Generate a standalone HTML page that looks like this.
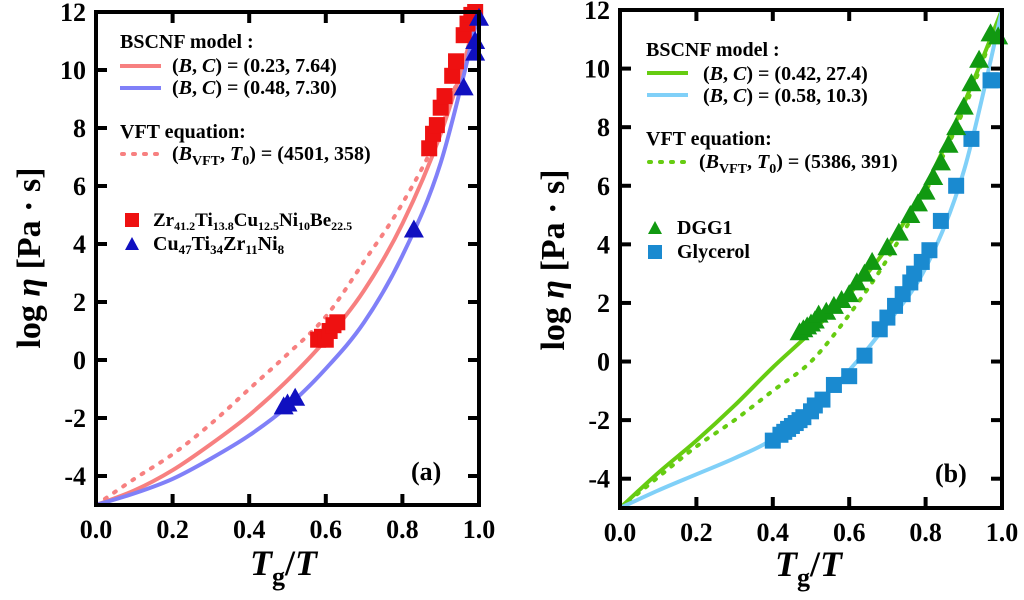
<!DOCTYPE html>
<html><head><meta charset="utf-8"><style>
html,body{margin:0;padding:0;background:#fff;}
svg{display:block;font-family:"Liberation Serif",serif;font-weight:bold;}
</style></head><body>
<svg id="c" width="1024" height="600" viewBox="0 0 1024 600"></svg>
<script>
// ---- data ----
const xTicks=[0,0.2,0.4,0.6,0.8,1.0];
const xTickLabels=["0.0","0.2","0.4","0.6","0.8","1.0"];
const yTicks=[-4,-2,0,2,4,6,8,10,12];
const yTickLabels=["-4","-2","0","2","4","6","8","10","12"];
const curveX=[0,0.1,0.2,0.3,0.4,0.5,0.6,0.7,0.8,0.9,1.0];
const aRedFit=[-5,-4.5,-3.8,-2.9,-1.9,-0.7,0.7,2.4,4.7,7.8,12];
const aBlueFit=[-5,-4.6,-4.1,-3.4,-2.6,-1.6,-0.3,1.3,3.6,6.8,12];
const aVFT=[-5,-4.1,-3.25,-2.2,-1.0,0.2,1.5,3.4,5.4,8.0,12];
const bGreenFit=[-5,-3.8,-2.7,-1.5,-0.2,1.0,2.3,3.9,6.0,8.8,12];
const bBlueFit=[-5,-4.4,-3.85,-3.3,-2.65,-1.6,-0.3,1.3,3.2,6.5,12];
const bVFT=[-5,-3.95,-2.9,-2.0,-1.0,0.0,1.6,3.5,5.8,8.6,12];
const zrX=[0.58,0.59,0.6,0.61,0.62,0.63,0.87,0.88,0.89,0.9,0.91,0.93,0.94,0.96,0.97,0.98,0.99];
const zrY=[0.7,0.8,0.7,1.0,1.2,1.3,7.3,7.8,8.1,8.7,9.1,9.8,10.3,11.2,11.6,11.9,12];
const cuX=[0.49,0.5,0.52,0.83,0.96,0.99,0.99,1.0];
const cuY=[-1.6,-1.5,-1.3,4.5,9.4,10.6,11.0,11.8];
const dggX=[0.47,0.48,0.49,0.5,0.51,0.52,0.54,0.56,0.58,0.6,0.62,0.64,0.66,0.7,0.73,0.76,0.78,0.8,0.82,0.84,0.86,0.88,0.9,0.92,0.94,0.97,0.99];
const dggY=[1.0,1.1,1.2,1.3,1.4,1.6,1.7,1.9,2.1,2.3,2.7,3.0,3.4,3.9,4.4,5.0,5.4,5.8,6.3,6.8,7.4,8.0,8.7,9.5,10.3,11.2,11.1];
const glyX=[0.4,0.42,0.43,0.44,0.45,0.46,0.47,0.48,0.5,0.51,0.53,0.56,0.6,0.64,0.68,0.7,0.72,0.74,0.76,0.77,0.79,0.81,0.84,0.88,0.92,0.97,0.98];
const glyY=[-2.7,-2.5,-2.4,-2.3,-2.2,-2.1,-2.0,-1.9,-1.7,-1.5,-1.3,-0.8,-0.5,0.2,1.1,1.5,1.9,2.3,2.7,3.0,3.4,3.8,4.8,6.0,7.6,9.6,9.6];

const svg=document.getElementById('c');
const NS='http://www.w3.org/2000/svg';
function mk(tag,attrs,parent){const e=document.createElementNS(NS,tag);for(const k in attrs)e.setAttribute(k,attrs[k]);(parent||svg).appendChild(e);return e;}
function smooth(pts){let d='M'+pts[0][0]+','+pts[0][1];for(let i=0;i<pts.length-1;i++){const p0=pts[Math.max(i-1,0)],p1=pts[i],p2=pts[i+1],p3=pts[Math.min(i+2,pts.length-1)];const c1=[p1[0]+(p2[0]-p0[0])/6,p1[1]+(p2[1]-p0[1])/6],c2=[p2[0]-(p3[0]-p1[0])/6,p2[1]-(p3[1]-p1[1])/6];d+=` C${c1[0]},${c1[1]} ${c2[0]},${c2[1]} ${p2[0]},${p2[1]}`;}return d;}

function panel(P){
  const g=mk('g',{});
  
  
  const sx=v=>P.x0+(P.x1-P.x0)*v, sy=v=>P.yb+(P.yt-P.yb)*(v+5)/17;
  const clip=mk('clipPath',{id:'clip'+P.id},g);mk('rect',{x:P.x0,y:P.yt,width:P.x1-P.x0,height:P.yb-P.yt},clip);
  P.curves.forEach(c=>{
    const p=mk('path',{d:smooth(curveX.map((x,i)=>[sx(x),sy(c.y[i])])),fill:'none',stroke:c.color,'stroke-width':4,'stroke-dasharray':c.dash||'none','stroke-linecap':c.dash?'round':'butt','clip-path':`url(#clip${P.id})`},g);
    
    
  });
  P.series.forEach(s=>{
    s.x.forEach((x,i)=>{
      const cx=sx(x),cy=sy(s.y[i]);let m;
      if(s.shape==='sq') m=mk('rect',{x:cx-8,y:cy-8,width:16,height:16,fill:s.color},g);
      else m=mk('polygon',{points:`${cx},${cy-10} ${cx-10},${cy+8} ${cx+10},${cy+8}`,fill:s.color},g);
      
      
    });
  });
  const fr=mk('rect',{x:P.x0,y:P.yt,width:P.x1-P.x0,height:P.yb-P.yt,fill:'none',stroke:'#000','stroke-width':4},g);
  
  
  yTicks.forEach((v,i)=>{
    const y=sy(v);
    mk('line',{x1:P.x0,x2:P.x0+11,y1:y,y2:y,stroke:'#000','stroke-width':4},g);
    mk('line',{x1:P.x1-11,x2:P.x1,y1:y,y2:y,stroke:'#000','stroke-width':4},g);
    const t=mk('text',{x:P.x0-10,y:y+9,'text-anchor':'end','font-size':26},g);t.textContent=yTickLabels[i];
    
    
  });
  xTicks.forEach((v,i)=>{
    const x=sx(v);
    if(i>0&&i<xTicks.length-1){mk('line',{x1:x,x2:x,y1:P.yb,y2:P.yb-11,stroke:'#000','stroke-width':4},g);mk('line',{x1:x,x2:x,y1:P.yt,y2:P.yt+11,stroke:'#000','stroke-width':4},g);}
    const t=mk('text',{x:x,y:P.yb+33,'text-anchor':'middle','font-size':26},g);t.textContent=xTickLabels[i];
    
    
  });
  return g;
}
panel({id:'a',name:'panel-a',x0:96,x1:479,yt:12,yb:505,
 curves:[{y:aVFT,color:'#f78080',dash:'2 9',name:'vft-curve-a'},{y:aRedFit,color:'#f78080',name:'bscnf-red-curve'},{y:aBlueFit,color:'#8080f8',name:'bscnf-blue-curve'}],
 series:[{x:zrX,y:zrY,color:'#ee1111',shape:'sq',name:'zr-alloy'},{x:cuX,y:cuY,color:'#1010c0',shape:'tri',name:'cu-alloy'}]});
panel({id:'b',name:'panel-b',x0:620,x1:1002,yt:10,yb:508,
 curves:[{y:bVFT,color:'#66cc11',dash:'2 9',name:'vft-curve-b'},{y:bGreenFit,color:'#66cc11',name:'bscnf-green-curve'},{y:bBlueFit,color:'#80d0f8',name:'bscnf-lightblue-curve'}],
 series:[{x:glyX,y:glyY,color:'#1a8ad0',shape:'sq',name:'glycerol'},{x:dggX,y:dggY,color:'#119911',shape:'tri',name:'dgg1'}]});
</script>
<svg width="1024" height="600" style="position:absolute;left:0;top:0;font-family:'Liberation Serif',serif;font-weight:bold">
 <g font-size="20">
  <text x="120" y="48">BSCNF model :</text>
  <line x1="120" x2="161" y1="66" y2="66" stroke="#f78080" stroke-width="4"/>
  <text x="172" y="72">(<tspan font-style="italic">B</tspan>, <tspan font-style="italic">C</tspan>) = (0.23, 7.64)</text>
  <line x1="120" x2="161" y1="88" y2="88" stroke="#8080f8" stroke-width="4"/>
  <text x="172" y="94">(<tspan font-style="italic">B</tspan>, <tspan font-style="italic">C</tspan>) = (0.48, 7.30)</text>
  <text x="120" y="138">VFT equation:</text>
  <line x1="122" x2="161" y1="154" y2="154" stroke="#f78080" stroke-width="4" stroke-dasharray="2 9" stroke-linecap="round"/>
  <text x="172" y="160">(<tspan font-style="italic">B</tspan><tspan font-size="14" dy="5">VFT</tspan><tspan dy="-5">, </tspan><tspan font-style="italic">T</tspan><tspan font-size="14" dy="5">0</tspan><tspan dy="-5">) = (4501, 358)</tspan></text>
  <rect x="125" y="213" width="14" height="14" fill="#ee1111"/>
  <text x="153" y="226" font-size="19">Zr<tspan font-size="12" dy="4">41.2</tspan><tspan dy="-4">Ti</tspan><tspan font-size="12" dy="4">13.8</tspan><tspan dy="-4">Cu</tspan><tspan font-size="12" dy="4">12.5</tspan><tspan dy="-4">Ni</tspan><tspan font-size="12" dy="4">10</tspan><tspan dy="-4">Be</tspan><tspan font-size="12" dy="4">22.5</tspan></text>
  <polygon points="132,237 125,250 139,250" fill="#1010c0"/>
  <text x="153" y="250" font-size="20">Cu<tspan font-size="13" dy="4">47</tspan><tspan dy="-4">Ti</tspan><tspan font-size="13" dy="4">34</tspan><tspan dy="-4">Zr</tspan><tspan font-size="13" dy="4">11</tspan><tspan dy="-4">Ni</tspan><tspan font-size="13" dy="4">8</tspan></text>
 </g>
 <text x="411" y="480" font-size="26">(a)</text>
 <g font-size="20">
  <text x="646" y="56">BSCNF model :</text>
  <line x1="647" x2="688" y1="73" y2="73" stroke="#66cc11" stroke-width="4"/>
  <text x="703" y="80">(<tspan font-style="italic">B</tspan>, <tspan font-style="italic">C</tspan>) = (0.42, 27.4)</text>
  <line x1="647" x2="688" y1="95" y2="95" stroke="#80d0f8" stroke-width="4"/>
  <text x="703" y="102">(<tspan font-style="italic">B</tspan>, <tspan font-style="italic">C</tspan>) = (0.58, 10.3)</text>
  <text x="646" y="145">VFT equation:</text>
  <line x1="649" x2="688" y1="162" y2="162" stroke="#66cc11" stroke-width="4" stroke-dasharray="2 9" stroke-linecap="round"/>
  <text x="699" y="168">(<tspan font-style="italic">B</tspan><tspan font-size="14" dy="5">VFT</tspan><tspan dy="-5">, </tspan><tspan font-style="italic">T</tspan><tspan font-size="14" dy="5">0</tspan><tspan dy="-5">) = (5386, 391)</tspan></text>
  <polygon points="655,221 648,234 662,234" fill="#119911"/>
  <text x="677" y="234">DGG1</text>
  <rect x="648" y="245" width="14" height="14" fill="#1a8ad0"/>
  <text x="677" y="258">Glycerol</text>
 </g>
 <text x="935" y="482" font-size="26">(b)</text>
 <text x="250" y="575" font-size="36" font-style="italic">T<tspan font-size="26" dy="10" font-style="normal">g</tspan><tspan dy="-10" font-style="normal">/</tspan>T</text>
 <text x="775" y="576" font-size="36" font-style="italic">T<tspan font-size="26" dy="10" font-style="normal">g</tspan><tspan dy="-10" font-style="normal">/</tspan>T</text>
 <text transform="translate(40,258) rotate(-90)" text-anchor="middle" font-size="34">log <tspan font-style="italic">η</tspan> [Pa · s]</text>
 <text transform="translate(564,260) rotate(-90)" text-anchor="middle" font-size="34">log <tspan font-style="italic">η</tspan> [Pa · s]</text>
</svg>
</body></html>
